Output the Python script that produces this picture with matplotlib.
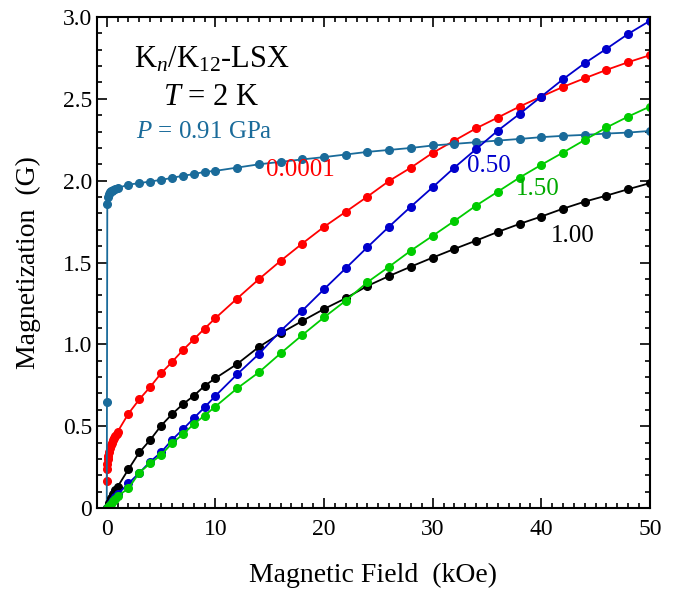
import matplotlib
matplotlib.use("Agg")
import matplotlib.pyplot as plt
from matplotlib.ticker import MultipleLocator

plt.rcParams['font.family'] = ['Liberation Serif', 'DejaVu Serif']
plt.rcParams['mathtext.fontset'] = 'custom'
plt.rcParams['mathtext.rm'] = 'Liberation Serif'
plt.rcParams['mathtext.it'] = 'Liberation Serif:italic'

# field values (kOe)
x_hi = [12, 14, 16, 18, 20, 22, 24, 26, 28, 30, 32, 34, 36, 38, 40, 42, 44, 46, 48, 50]
x_mid = [2, 3, 4, 5, 6, 7, 8, 9, 10]

# P = 0.91 GPa
teal_x = [0, 0.02, 0.05, 0.1, 0.2, 0.3, 0.4, 0.5, 0.6, 0.8, 1.0] + x_mid + x_hi
teal_y = [0, 0.65, 1.86, 1.90, 1.92, 1.93, 1.935, 1.94, 1.945, 1.95, 1.955,
          1.976, 1.985, 1.995, 2.005, 2.017, 2.03, 2.04, 2.054, 2.06,
          2.08, 2.10, 2.115, 2.13, 2.144, 2.16, 2.176, 2.188, 2.20, 2.215,
          2.225, 2.235, 2.245, 2.255, 2.266, 2.274, 2.28, 2.288, 2.294, 2.304]

# P = 0.0001 GPa
red_x = [0, 0.02, 0.05, 0.1, 0.15, 0.2, 0.3, 0.4, 0.5, 0.6, 0.7, 0.8, 0.9, 1.0] + x_mid + x_hi
red_y = [0.165, 0.24, 0.27, 0.30, 0.32, 0.34, 0.365, 0.385, 0.40, 0.415, 0.43, 0.44, 0.455, 0.466,
         0.577, 0.664, 0.74, 0.823, 0.892, 0.964, 1.03, 1.096, 1.16,
         1.28, 1.398, 1.51, 1.616, 1.718, 1.81, 1.903, 1.999, 2.08, 2.17,
         2.245, 2.32, 2.386, 2.453, 2.514, 2.573, 2.626, 2.677, 2.724, 2.767]

# P = 1.00 GPa
black_x = [0, 0.2, 0.4, 0.6, 0.8, 1.0] + x_mid + x_hi
black_y = [0, 0.03, 0.06, 0.085, 0.11, 0.13,
           0.237, 0.34, 0.416, 0.503, 0.573, 0.634, 0.685, 0.746, 0.793,
           0.88, 0.984, 1.068, 1.143, 1.216, 1.282, 1.357, 1.418, 1.475, 1.53,
           1.583, 1.634, 1.687, 1.736, 1.781, 1.829, 1.872, 1.909, 1.948, 1.985]

# P = 0.50 GPa
blue_x = [0, 0.2, 0.4, 0.6, 0.8, 1.0] + x_mid + x_hi
blue_y = [0, 0.015, 0.03, 0.05, 0.07, 0.085,
          0.15, 0.215, 0.283, 0.34, 0.416, 0.48, 0.548, 0.615, 0.685,
          0.817, 0.941, 1.082, 1.206, 1.337, 1.465, 1.594, 1.72, 1.842, 1.96,
          2.08, 2.193, 2.306, 2.408, 2.514, 2.62, 2.718, 2.806, 2.897, 2.977]

# P = 1.50 GPa
green_x = [0, 0.2, 0.4, 0.6, 0.8, 1.0] + x_mid + x_hi
green_y = [0, 0.013, 0.027, 0.042, 0.057, 0.073,
           0.12, 0.216, 0.273, 0.324, 0.395, 0.45, 0.512, 0.565, 0.62,
           0.731, 0.829, 0.945, 1.057, 1.165, 1.267, 1.38, 1.475, 1.573, 1.663,
           1.754, 1.848, 1.933, 2.019, 2.097, 2.172, 2.249, 2.325, 2.392, 2.453]

TEAL = '#1a6b9a'

fig = plt.figure(figsize=(6.8, 5.91), dpi=100)
ax = fig.add_axes([0.1426, 0.1404, 0.8132, 0.8308])

style = dict(marker='o', markersize=5.5, linewidth=1.3)
ax.plot(red_x, red_y, color='#ff0000', **style)
ax.plot(teal_x, teal_y, color=TEAL, **style)
ax.plot(black_x, black_y, color='black', **style)
ax.plot(blue_x, blue_y, color='#0000cc', **style)
ax.plot(green_x, green_y, color='#00cc00', **style)

ax.set_xlim(-0.9, 50)
ax.set_ylim(0, 3.0)
ax.xaxis.set_major_locator(MultipleLocator(10))
ax.xaxis.set_minor_locator(MultipleLocator(1))
ax.yaxis.set_major_locator(MultipleLocator(0.5))
ax.yaxis.set_minor_locator(MultipleLocator(0.1))
ax.set_yticks([0, 0.5, 1.0, 1.5, 2.0, 2.5, 3.0])
ax.set_yticklabels(['0', '0.5', '1.0', '1.5', '2.0', '2.5', '3.0'])

for s in ax.spines.values():
    s.set_linewidth(1.5)
ax.tick_params(which='both', direction='in', top=True, right=True, labelsize=17, width=1.2)
ax.tick_params(which='major', length=7)
ax.tick_params(which='minor', length=3.5)
ax.tick_params(axis='x', pad=8)

ax.set_xlabel('Magnetic Field  (kOe)', fontsize=20, labelpad=16)
ax.set_ylabel('Magnetization  (G)', fontsize=20, labelpad=16)

ax.text(9.7, 2.738, r'K$_{\mathit{n}}$/K$_{12}$-LSX', fontsize=22, ha='center', va='center')
ax.text(9.6, 2.51, r'$T$ = 2 K', fontsize=22, ha='center', va='center')
ax.text(9.0, 2.30, r'$P$ = 0.91 GPa', fontsize=18, ha='center', va='center', color=TEAL)

ax.text(17.8, 2.066, '0.0001', fontsize=18, ha='center', va='center', color='#ff0000')
ax.text(35.2, 2.09, '0.50', fontsize=18, ha='center', va='center', color='#0000cc')
ax.text(39.7, 1.95, '1.50', fontsize=18, ha='center', va='center', color='#00aa00')
ax.text(42.9, 1.663, '1.00', fontsize=18, ha='center', va='center', color='black')

fig.savefig('out.png', dpi=100)
